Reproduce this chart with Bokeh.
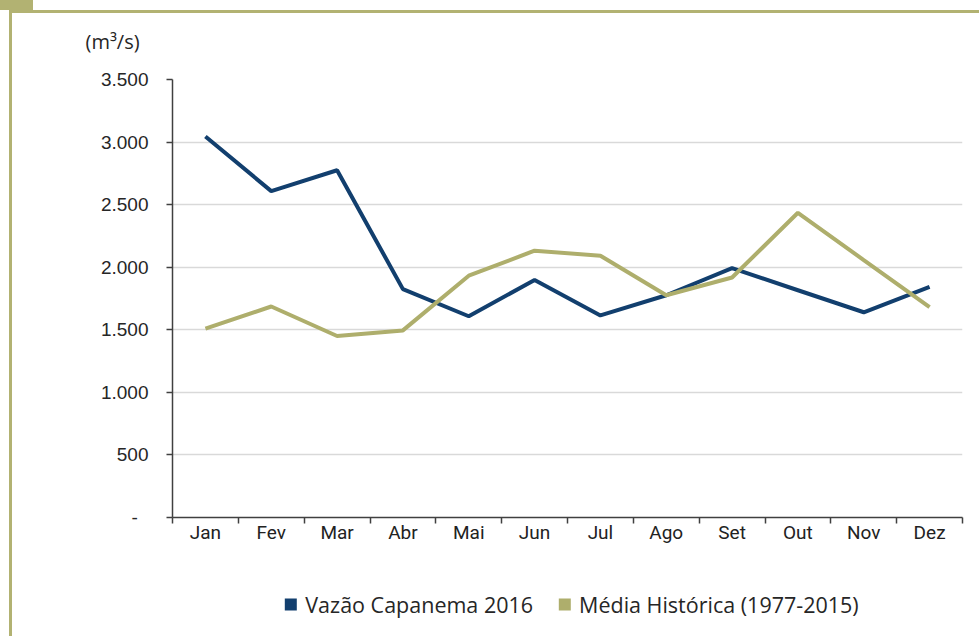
from bokeh.plotting import figure
from bokeh.layouts import column
from bokeh.models import Range1d, FixedTicker, Title, Legend, LegendItem, InlineStyleSheet
from bokeh.embed import file_html
from bokeh.resources import INLINE

months = ["Jan", "Fev", "Mar", "Abr", "Mai", "Jun", "Jul", "Ago", "Set", "Out", "Nov", "Dez"]
vazao = [3045, 2608, 2775, 1825, 1608, 1898, 1615, 1776, 1993, 1816, 1640, 1843]
media = [1510, 1686, 1450, 1495, 1932, 2132, 2092, 1776, 1918, 2435, 2057, 1681]
y_ticks = [0, 500, 1000, 1500, 2000, 2500, 3000, 3500]
y_tick_labels = ["-\u00a0\u00a0", "500", "1.000", "1.500", "2.000", "2.500", "3.000", "3.500"]
series_names = ["Vazão Capanema 2016", "Média Histórica (1977-2015)"]
unit_label = "(m³/s)"

BLUE = "#123f6e"
OLIVE = "#aeae6c"
FRAME = "#b2b272"

W = 979
H1, H2 = 560, 76
xs = [i + 0.5 for i in range(len(months))]

# ---------------- main chart ----------------
p = figure(width=W, height=H1, output_backend="svg", toolbar_location=None,
           x_range=Range1d(0, 12), y_range=Range1d(0, 3500),
           min_border_left=172, min_border_right=17, min_border_top=79, min_border_bottom=43)
p.outline_line_color = None
p.background_fill_color = "white"
p.border_fill_color = "white"

p.line(xs, vazao, line_color=BLUE, line_width=4)
p.line(xs, media, line_color=OLIVE, line_width=4)

p.xaxis.ticker = FixedTicker(ticks=xs, minor_ticks=list(range(13)))
p.xaxis.major_label_overrides = {x: m for x, m in zip(xs, months)}
p.xaxis.major_tick_line_color = None
p.xaxis.major_tick_out = 0
p.xaxis.major_tick_in = 0
p.xaxis.minor_tick_out = 6
p.xaxis.minor_tick_in = 0
p.xaxis.minor_tick_line_color = "#404040"
p.xaxis.minor_tick_line_width = 1.5
p.xaxis.major_label_standoff = -3
p.xaxis.major_label_text_font = "Roboto"
p.xaxis.major_label_text_font_size = "19px"
p.xaxis.major_label_text_color = "#222222"

p.yaxis.ticker = FixedTicker(ticks=y_ticks, minor_ticks=[])
p.yaxis.major_label_overrides = {t: l for t, l in zip(y_ticks, y_tick_labels)}
p.yaxis.major_tick_out = 6
p.yaxis.major_tick_in = 0
p.yaxis.major_tick_line_color = "#404040"
p.yaxis.major_tick_line_width = 1.5
p.yaxis.major_label_standoff = 18
p.yaxis.major_label_text_font = "Liberation Sans"
p.yaxis.major_label_text_font_size = "19px"
p.yaxis.major_label_text_color = "#262626"

for ax in (p.xaxis, p.yaxis):
    ax.axis_line_color = "#404040"
    ax.axis_line_width = 1.5

p.xgrid.grid_line_color = None
p.ygrid.ticker = FixedTicker(ticks=y_ticks)
p.ygrid.grid_line_color = "#d9d9d9"
p.ygrid.grid_line_width = 1.5

p.add_layout(Title(text=unit_label, align="left", offset=-87, standoff=50,
                   text_font="Open Sans", text_font_size="20px", text_font_style="normal",
                   text_color="#262626"), "above")

p.stylesheets = [InlineStyleSheet(css=f"""
:host {{ position: relative; }}
:host::before {{ content: ""; position: absolute; left: 9px; top: 10px; width: {W - 9}px; height: {H1 - 10}px;
  border-left: 3px solid {FRAME}; border-top: 3px solid {FRAME}; box-sizing: border-box;
  pointer-events: none; z-index: 10; }}
:host::after {{ content: ""; position: absolute; left: 0px; top: 0px; width: 33px; height: 10px;
  background: {FRAME}; pointer-events: none; z-index: 10; }}
""")]

# ---------------- legend strip ----------------
p2 = figure(width=W, height=H2, output_backend="svg", toolbar_location=None,
            x_axis_location=None, y_axis_location=None,
            min_border_left=162, min_border_right=17, min_border_top=12, min_border_bottom=0)
p2.outline_line_color = None
p2.grid.visible = False
p2.background_fill_color = "white"
p2.border_fill_color = "white"

k_blue = p2.scatter(xs, vazao, marker="square", size=12, fill_color=BLUE, line_color=None, visible=False)
k_olive = p2.scatter(xs, media, marker="square", size=12, fill_color=OLIVE, line_color=None, visible=False)

legend = Legend(items=[LegendItem(label=series_names[0], renderers=[k_blue]),
                       LegendItem(label=series_names[1], renderers=[k_olive])],
                orientation="horizontal", location="center",
                glyph_width=30, glyph_height=30, label_standoff=-8, spacing=16,
                label_text_font="Open Sans", label_text_font_size="21.5px",
                label_text_color="#262626", border_line_color=None,
                background_fill_alpha=0, inactive_fill_alpha=0, padding=0, margin=0)
p2.add_layout(legend, "center")

p2.stylesheets = [InlineStyleSheet(css=f"""
:host {{ position: relative; }}
:host::before {{ content: ""; position: absolute; left: 9px; top: 0px; width: 3px; height: {H2}px;
  background: {FRAME}; pointer-events: none; z-index: 10; }}
""")]

layout = column(p, p2, spacing=0)
open("out.html", "w").write(file_html(layout, INLINE))
